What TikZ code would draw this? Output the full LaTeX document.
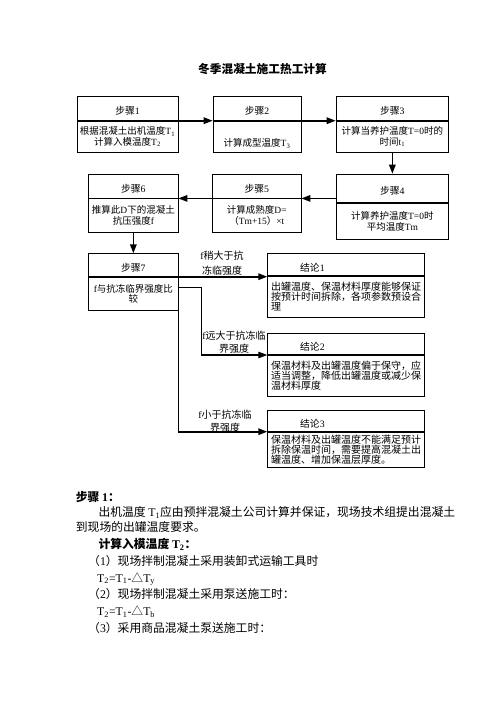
\documentclass[tikz,border=0pt]{standalone}
\usepackage{fontspec}
\setmainfont{Noto Sans CJK SC}
\newfontfamily\enfont{Liberation Serif}
\newcommand{\en}[1]{{\enfont #1}}
\usetikzlibrary{positioning,arrows.meta}
\tikzset{
  head/.style={draw, line width=0.7pt, inner sep=0pt, text height=14pt,
    font=\fontsize{9.8}{10.7}\selectfont, anchor=north west},
  body/.style={draw, line width=0.7pt, inner sep=0pt, align=center,
    font=\fontsize{9.5}{10.7}\selectfont},
  concl/.style={body, text width=150pt, align=left, font=\fontsize{10}{10}\selectfont},
  lab/.style={inner sep=0pt, align=center, font=\fontsize{10}{13}\selectfont},
  para/.style={inner sep=0pt, anchor=base west, font=\fontsize{11.8}{14}\selectfont},
  flow/.style={line width=1.6pt, -{Triangle[length=9pt,width=6.5pt]}}
}
\begin{document}
\begin{tikzpicture}[x=1pt, y=-1pt]
  \fill[white] (0,0) rectangle (496,702);
  \node[font=\fontsize{11.7}{14}\selectfont\bfseries] (title) at (262.5,69) {冬季混凝土施工热工计算};

  % steps 1-3
  \node[head, minimum width=101pt, minimum height=24pt] (s1h) at (76.7,96) {步骤\en{1}};
  \node[body, minimum width=101pt, minimum height=31.7pt, below=0pt of s1h] (s1)
    {根据混凝土出机温度\en{T\textsubscript{1}}\\计算入模温度\en{T\textsubscript{2}}};
  \node[head, minimum width=88pt, minimum height=24pt] (s2h) at (212.7,96) {步骤\en{2}};
  \node[body, minimum width=88pt, minimum height=31.7pt, text height=21pt, below=0pt of s2h] (s2)
    {计算成型温度\en{T\textsubscript{3}}};
  \node[head, minimum width=112.6pt, minimum height=24pt] (s3h) at (335.7,96) {步骤\en{3}};
  \node[body, minimum width=112.6pt, minimum height=31.7pt, below=0pt of s3h] (s3)
    {计算当养护温度\en{T=0}时的\\时间\en{t\textsubscript{1}}};

  % steps 4-6
  \node[head, minimum width=112.6pt, minimum height=28.6pt] (s4h) at (335.7,173.7) {步骤\en{4}};
  \node[body, minimum width=112.6pt, minimum height=36pt, below=0pt of s4h] (s4)
    {计算养护温度\en{T=0}时\\平均温度\en{Tm}};
  \node[head, minimum width=88.4pt, minimum height=24pt] (s5h) at (212.3,173.7) {步骤\en{5}};
  \node[body, minimum width=88.4pt, minimum height=33.3pt, below=0pt of s5h] (s5)
    {计算成熟度\en{D=}\\（\en{Tm+15}）\en{×t}};
  \node[head, minimum width=89.4pt, minimum height=24pt] (s6h) at (88.3,173.7) {步骤\en{6}};
  \node[body, minimum width=89.4pt, minimum height=33.3pt, below=0pt of s6h] (s6)
    {推算此\en{D}下的混凝土\\抗压强度\en{f}};

  % step 7
  \node[head, minimum width=89.4pt, minimum height=22.7pt] (s7h) at (88.3,253.3) {步骤\en{7}};
  \node[body, minimum width=89.4pt, minimum height=33.3pt, below=0pt of s7h] (s7)
    {\en{f}与抗冻临界强度比\\较};

  % conclusions
  \node[head, minimum width=157pt, minimum height=21.7pt, text width=150pt, align=left] (c1h)
    at (267.3,253.3) {\hspace*{29pt}结论\en{1}};
  \node[concl, minimum width=157pt, minimum height=41pt, below=0pt of c1h] (c1)
    {出罐温度、保温材料厚度能够保证\\按预计时间拆除，各项参数预设合\\理};
  \node[head, minimum width=157pt, minimum height=21.6pt, text width=150pt, align=left] (c2h)
    at (267.3,332.7) {\hspace*{29pt}结论\en{2}};
  \node[concl, minimum width=157pt, minimum height=40.7pt, below=0pt of c2h] (c2)
    {保温材料及出罐温度偏于保守，应\\适当调整，降低出罐温度或减少保\\温材料厚度};
  \node[head, minimum width=157pt, minimum height=21pt, text width=150pt, align=left] (c3h)
    at (267.3,410) {\hspace*{29pt}结论\en{3}};
  \node[concl, minimum width=157pt, minimum height=35.7pt, below=0pt of c3h] (c3)
    {保温材料及出罐温度不能满足预计\\拆除保温时间，需要提高混凝土出\\罐温度、增加保温层厚度。};

  \node[lab] (l1) at (222,263) {\en{f}稍大于抗\\[2pt]冻临强度};
  \node[lab] (l2) at (234,342.5) {\en{f}远大于抗冻临\\界强度};
  \node[lab] (l3) at (225,421) {\en{f}小于抗冻临\\界强度};

  \draw[flow] (s1h.south east) -- (s2h.south west);
  \draw[flow] (s2h.south east) -- (s3h.south west);
  \draw[flow] (s3.south) -- (s4h.north);
  \draw[flow] (s4h.west |- s5h.south) -- (s5h.south east);
  \draw[flow] (s5h.south west) -- (s6h.south east);
  \draw[flow] (s6.south) -- (s7h.north);
  \draw[flow] (s7h.south east) -- (s7h.south east -| c1h.west);
  \draw[flow, line width=1.1pt] ([yshift=-10.7pt]s7.north east) -- ++(23,0) |- (c2h.south west);
  \draw[flow] (s7.south east) |- (c3h.south west);

  % text below the chart
  \node[para, font=\fontsize{11.8}{14}\selectfont\bfseries] (p1) at (75.7,501.4) {步骤 \en{1}：};
  \node[para] (p2) at (98.3,516.8) {出机温度 \en{T\textsubscript{1}}应由预拌混凝土公司计算并保证，现场技术组提出混凝土};
  \node[para] (p3) at (75.7,531.4) {到现场的出罐温度要求。};
  \node[para, font=\fontsize{11.8}{14}\selectfont\bfseries] (p4) at (98.3,548.4) {计算入模温度 \en{T\textsubscript{2}}：};
  \node[para] (p5) at (88,565.2) {（\en{1}）现场拌制混凝土采用装卸式运输工具时};
  \node[para] (p6) at (97,582) {\en{T\textsubscript{2}=T\textsubscript{1}-}△\en{T\textsubscript{y}}};
  \node[para] (p7) at (88,598.8) {（\en{2}）现场拌制混凝土采用泵送施工时：};
  \node[para] (p8) at (97,615.6) {\en{T\textsubscript{2}=T\textsubscript{1}-}△\en{T\textsubscript{b}}};
  \node[para] (p9) at (88,632.4) {（\en{3}）采用商品混凝土泵送施工时：};
\end{tikzpicture}
\end{document}
